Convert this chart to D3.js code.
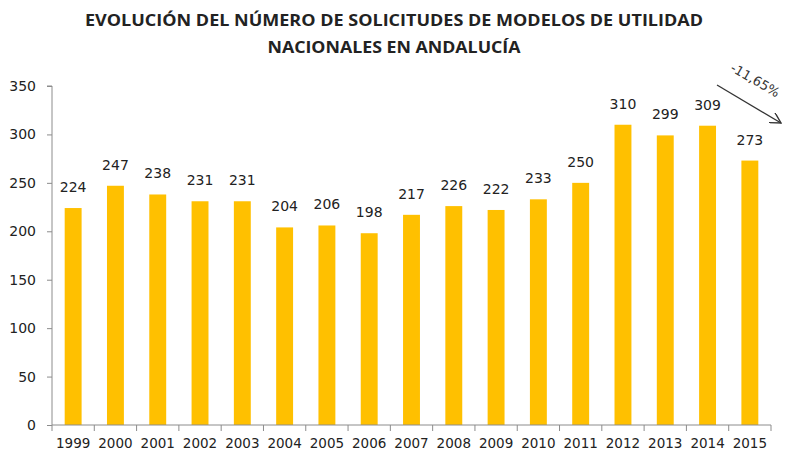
<!DOCTYPE html>
<html>
<head>
<meta charset="utf-8">
<script src="https://cdn.jsdelivr.net/npm/d3@7"></script>
<style>
  body { margin: 0; background: #fff; }
</style>
</head>
<body>
<script>
const years = ["1999","2000","2001","2002","2003","2004","2005","2006","2007","2008","2009","2010","2011","2012","2013","2014","2015"];
const solicitudes = [224,247,238,231,231,204,206,198,217,226,222,233,250,310,299,309,273];
const yTicks = [0,50,100,150,200,250,300,350];
const titleLines = ["EVOLUCIÓN DEL NÚMERO DE SOLICITUDES DE MODELOS DE UTILIDAD", "NACIONALES EN ANDALUCÍA"];
const variation = "-11,65%";

(()=>{
    const width = 785;
    const height = 455;
    const marginTop = 86;
    const marginRight = 14;
    const marginBottom = 30;
    const marginLeft = 52;

    const x = d3.scaleBand()
    .domain(years)
    .range([marginLeft, width - marginRight])
    .paddingInner(0.6)
    .paddingOuter(0.3);

    const y = d3.scaleLinear()
    .domain([0, 350])
    .range([height - marginBottom, marginTop]);

    const svg = d3.create("svg")
    .attr("width", width)
    .attr("height", height)
    .attr("viewBox", [0, 0, width, height]);

    // title, stretched to the reference widths
    const titleWidths = [618, 253];
    svg.selectAll("title-line")
    .data(titleLines)
    .enter()
    .append("text")
    .attr("x", 394)
    .attr("y", (d, i) => 26 + i * 27)
    .attr("text-anchor", "middle")
    .attr("font-family", "'Open Sans', sans-serif")
    .attr("font-weight", "bold")
    .attr("font-size", 16.5)
    .attr("fill", "#222")
    .attr("textLength", (d, i) => titleWidths[i])
    .attr("lengthAdjust", "spacingAndGlyphs")
    .text(d => d);

    // bars
    svg.selectAll("bars")
    .data(solicitudes)
    .enter()
    .append("rect")
    .attr("x", (d, i) => x(years[i]))
    .attr("y", d => y(d))
    .attr("width", x.bandwidth())
    .attr("height", d => y(0) - y(d))
    .attr("fill", "#FFC000");

    // value labels
    svg.selectAll("labels")
    .data(solicitudes)
    .enter()
    .append("text")
    .attr("x", (d, i) => x(years[i]) + x.bandwidth() / 2)
    .attr("y", d => y(d) - 16)
    .attr("text-anchor", "middle")
    .attr("font-family", "'DejaVu Sans', sans-serif")
    .attr("font-size", 14)
    .attr("fill", "#222")
    .text(d => d);

    // x axis with ticks between categories
    const xAxis = svg.append("g")
    .attr("transform", `translate(0,${y(0)})`);
    xAxis.append("line")
    .attr("x1", marginLeft).attr("x2", width - marginRight)
    .attr("stroke", "#8c8c8c");
    const bounds = d3.range(years.length + 1).map(i => marginLeft + i * (width - marginRight - marginLeft) / years.length);
    xAxis.selectAll("xt")
    .data(bounds)
    .enter()
    .append("line")
    .attr("x1", d => d).attr("x2", d => d)
    .attr("y1", 0).attr("y2", 6)
    .attr("stroke", "#8c8c8c");
    xAxis.selectAll("xl")
    .data(years)
    .enter()
    .append("text")
    .attr("x", d => x(d) + x.bandwidth() / 2)
    .attr("y", 23)
    .attr("text-anchor", "middle")
    .attr("font-family", "'DejaVu Sans', sans-serif")
    .attr("font-size", 13.5)
    .attr("fill", "#222")
    .text(d => d);

    // y axis
    svg.append("g")
    .attr("transform", `translate(${marginLeft},0)`)
    .call(d3.axisLeft(y).tickValues(yTicks).tickSize(5).tickPadding(11))
    .call(g => g.select(".domain").attr("stroke", "#8c8c8c").attr("d", `M-5,${y(350)}H0V${y(0)}`))
    .call(g => g.selectAll(".tick line").attr("stroke", "#8c8c8c"))
    .call(g => g.selectAll(".tick text")
        .attr("font-family", "'DejaVu Sans', sans-serif")
        .attr("font-size", 14)
        .attr("fill", "#222"));

    // trend arrow
    svg.append("defs").append("marker")
    .attr("id", "arr")
    .attr("viewBox", "0 0 10 10")
    .attr("refX", 9).attr("refY", 5)
    .attr("markerWidth", 9).attr("markerHeight", 9)
    .attr("orient", "auto")
    .append("path")
    .attr("d", "M0,0L9,5L0,10")
    .attr("fill", "none")
    .attr("stroke", "#333")
    .attr("stroke-width", 1.2);

    svg.append("line")
    .attr("x1", 717).attr("y1", 85)
    .attr("x2", 781).attr("y2", 123)
    .attr("stroke", "#333")
    .attr("stroke-width", 1.3)
    .attr("marker-end", "url(#arr)");

    svg.append("text")
    .attr("transform", "translate(753,84) rotate(30)")
    .attr("text-anchor", "middle")
    .attr("font-family", "'DejaVu Sans', sans-serif")
    .attr("font-size", 13)
    .attr("fill", "#333")
    .text(variation);

    d3.select("body").append(() => svg.node());
})()
</script>
</body>
</html>
